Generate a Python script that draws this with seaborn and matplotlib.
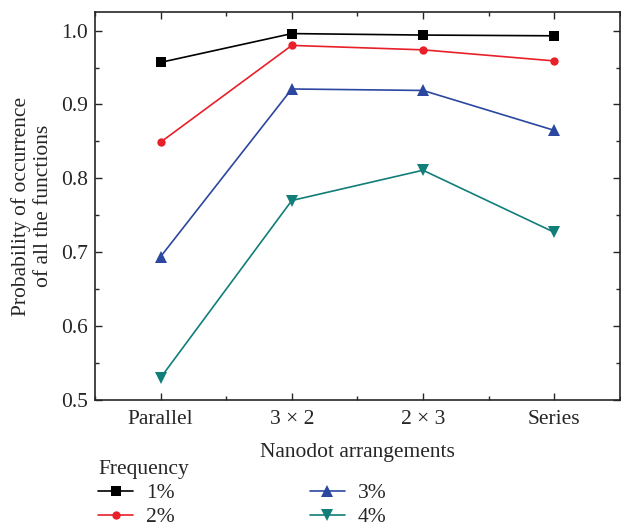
import pandas as pd
import matplotlib
matplotlib.use("Agg")
import matplotlib.pyplot as plt
import seaborn as sns
from matplotlib.ticker import MultipleLocator

# data
arrangements = ["Parallel", "3 × 2", "2 × 3", "Series"]
frequencies = ["1%", "2%", "3%", "4%"]
freq_1 = [0.957, 0.996, 0.994, 0.993]
freq_2 = [0.849, 0.980, 0.974, 0.959]
freq_3 = [0.694, 0.921, 0.919, 0.865]
freq_4 = [0.530, 0.770, 0.811, 0.727]

rows = []
for f, vals in zip(frequencies, [freq_1, freq_2, freq_3, freq_4]):
    for i, v in enumerate(vals):
        rows.append({"pos": i, "Frequency": f, "prob": v})
df = pd.DataFrame(rows)

sns.set_theme(style="ticks")
plt.rcParams["font.family"] = ["Liberation Serif", "DejaVu Serif"]
fs = 15.5
plt.rcParams["font.size"] = fs

palette = {"1%": "#000000", "2%": "#e8202a", "3%": "#2b479f", "4%": "#117e79"}
markers = {"1%": "s", "2%": "o", "3%": "^", "4%": "v"}
sizes = {"1%": 7.5, "2%": 6, "3%": 8.5, "4%": 8.5}

fig = plt.figure(figsize=(6.21, 5.29), dpi=100)
ax = fig.add_axes([0.153, 0.244, 0.845, 0.733])

for f in frequencies:
    sub = df[df["Frequency"] == f]
    sns.lineplot(data=sub, x="pos", y="prob", color=palette[f], marker=markers[f],
                 markersize=sizes[f], markeredgewidth=0, linewidth=1.2, label=f, ax=ax)

ax.set_xlim(-0.5, 3.5)
ax.set_ylim(0.5, 1.025)
ax.set_xticks(range(len(arrangements)))
ax.set_xticklabels(arrangements)
ax.xaxis.set_minor_locator(MultipleLocator(0.5))
ax.yaxis.set_major_locator(MultipleLocator(0.1))
ax.yaxis.set_minor_locator(MultipleLocator(0.05))
ax.yaxis.set_major_formatter(matplotlib.ticker.FormatStrFormatter("%.1f"))
ax.tick_params(which="both", direction="in", top=True, right=True, labelsize=fs, width=1)
ax.tick_params(which="major", length=5)
ax.tick_params(which="minor", length=3)
ax.tick_params(axis="x", pad=7)
ax.tick_params(axis="y", pad=5)
for s in ax.spines.values():
    s.set_linewidth(1.2)

ax.set_xlabel("Nanodot arrangements", fontsize=fs, labelpad=10)
ax.set_ylabel("Probability of occurrence\nof all the functions", fontsize=fs, labelpad=6)

leg = ax.legend(title="Frequency", ncol=2, loc="upper left", bbox_to_anchor=(-0.01, -0.132),
                frameon=False, fontsize=fs, title_fontsize=fs, handlelength=1.6,
                handletextpad=0.6, columnspacing=6.3, labelspacing=0.2, borderaxespad=0)
leg._legend_box.align = "left"

fig.savefig("out.png", dpi=100)
